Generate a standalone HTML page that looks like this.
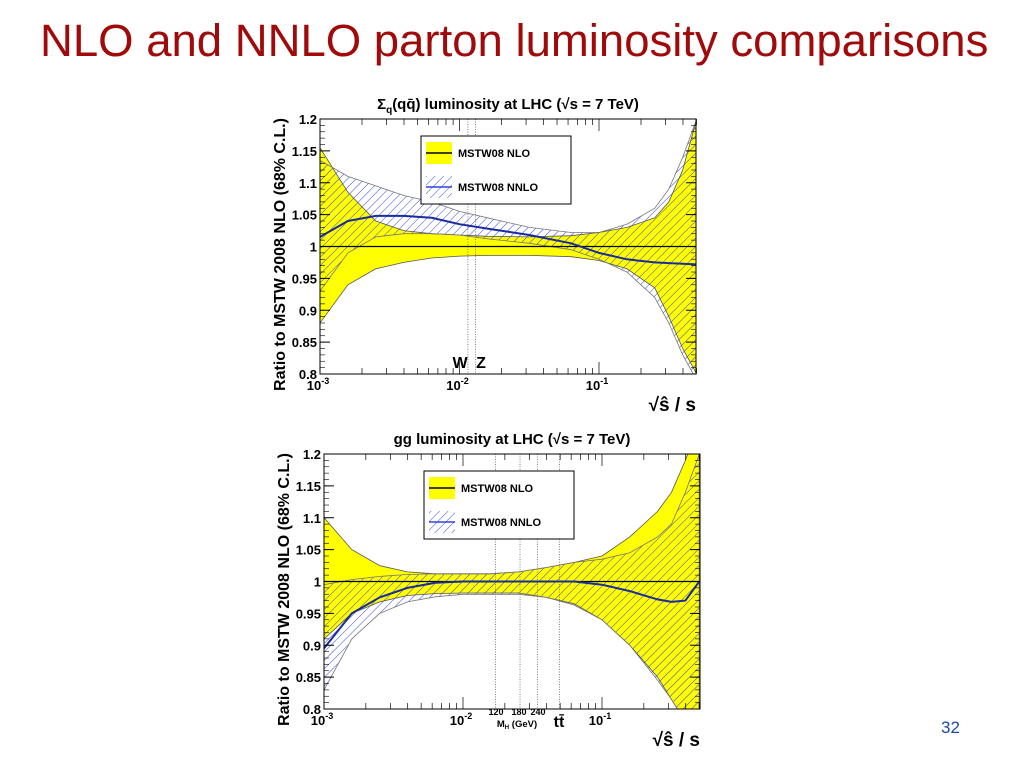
<!DOCTYPE html>
<html><head><meta charset="utf-8"><style>
body{margin:0;width:1024px;height:768px;background:#fff;overflow:hidden;font-family:"Liberation Sans",sans-serif}
#title{position:absolute;left:40px;top:15px;font-size:45.5px;color:#a00a0a;white-space:nowrap}
#pg{position:absolute;left:941px;top:718px;font-size:17px;color:#1a4aa8}
svg{position:absolute;left:0;top:0}
</style></head><body>
<div id="title">NLO and NNLO parton luminosity comparisons</div>
<div id="pg">32</div>
<svg id="s" width="1024" height="768">
<defs>
<pattern id="hb" patternUnits="userSpaceOnUse" width="6" height="6" patternTransform="rotate(45)"><line x1="0" y1="0" x2="0" y2="6" stroke="#3344dd" stroke-width="1"/></pattern>
</defs>
</svg>
<script>
// log10(sqrt(s^hat/s)) sample points
const qX=[-3,-2.8,-2.6,-2.4,-2.2,-2,-1.8,-1.5,-1.2,-1,-0.8,-0.6,-0.5,-0.4,-0.3];
const qNloUp=[1.155,1.085,1.04,1.025,1.02,1.018,1.016,1.015,1.017,1.022,1.03,1.045,1.07,1.12,1.2];
const qNloLo=[0.88,0.94,0.965,0.975,0.982,0.985,0.986,0.986,0.984,0.978,0.965,0.935,0.89,0.84,0.8];
const qNnloC=[1.015,1.04,1.048,1.048,1.045,1.035,1.028,1.018,1.005,0.99,0.98,0.975,0.974,0.973,0.972];
const qNnloUp=[1.135,1.11,1.095,1.08,1.07,1.055,1.045,1.03,1.022,1.022,1.035,1.06,1.09,1.14,1.2];
const qNnloLo=[0.93,0.99,1.015,1.02,1.02,1.018,1.012,1.005,0.995,0.98,0.96,0.92,0.88,0.83,0.79];
const gX=[-3,-2.8,-2.6,-2.4,-2.2,-2,-1.8,-1.6,-1.4,-1.2,-1,-0.8,-0.6,-0.5,-0.4,-0.3];
const gNloUp=[1.1,1.05,1.025,1.015,1.012,1.012,1.012,1.015,1.022,1.03,1.04,1.07,1.11,1.14,1.19,1.25];
const gNloLo=[0.91,0.95,0.968,0.978,0.981,0.982,0.982,0.982,0.975,0.965,0.94,0.9,0.85,0.815,0.78,0.75];
const gNnloC=[0.895,0.95,0.975,0.99,0.998,1.0,1.0,1.0,1.0,1.0,0.995,0.985,0.972,0.968,0.97,1.0];
const gNnloUp=[0.995,1.003,1.008,1.011,1.012,1.012,1.012,1.015,1.022,1.03,1.035,1.045,1.07,1.09,1.14,1.2];
const gNnloLo=[0.83,0.91,0.95,0.968,0.976,0.98,0.98,0.98,0.975,0.963,0.94,0.9,0.845,0.815,0.78,0.74];
const yTicks=["0.8","0.85","0.9","0.95","1","1.05","1.1","1.15","1.2"];
const NS="http://www.w3.org/2000/svg";
const svg=document.getElementById('s');
function mk(t,a,p){const e=document.createElementNS(NS,t);for(const k in a)e.setAttribute(k,a[k]);(p||svg).appendChild(e);return e;}
function chart(c){
  const g=mk('g',{});
  
  
  const X=v=>c.x0+(v+3)*c.dec, Y=v=>c.y1+(1.2-v)/0.4*(c.y0-c.y1);
  const cid=c.name+'-clip';
  const cp=mk('clipPath',{id:cid},svg.querySelector('defs'));
  mk('rect',{x:c.x0,y:c.y1,width:c.x1-c.x0,height:c.y0-c.y1},cp);
  const pg=mk('g',{'clip-path':'url(#'+cid+')'},g);
  const line=(xs,ys)=>xs.map((v,i)=>X(v).toFixed(1)+','+Y(ys[i]).toFixed(1)).join(' ');
  const band=(xs,u,l)=>line(xs,u)+' '+line(xs.slice().reverse(),l.slice().reverse());
  let e=mk('polygon',{points:band(c.xs,c.nu,c.nl),fill:'#ffff00',stroke:'#555','stroke-width':0.8},pg);
  
  e=mk('polygon',{points:band(c.xs,c.hu,c.hl),fill:'url(#hb)',stroke:'#777','stroke-width':0.8},pg);
  
  c.marks.forEach(m=>{const l=mk('line',{x1:X(m),x2:X(m),y1:c.y1,y2:c.y0,stroke:'#666','stroke-dasharray':'1,1.5','stroke-width':0.8},pg);
    });
  e=mk('line',{x1:c.x0,x2:c.x1,y1:Y(1),y2:Y(1),stroke:'#000','stroke-width':1.3},pg);
  
  e=mk('polyline',{points:line(c.xs,c.hc),fill:'none',stroke:'#1a2aa0','stroke-width':2},pg);
  
  mk('rect',{x:c.x0,y:c.y1,width:c.x1-c.x0,height:c.y0-c.y1,fill:'none',stroke:'#000','stroke-width':1},g);
  yTicks.forEach(t=>{const v=+t,y=Y(v);
    mk('line',{x1:c.x0,x2:c.x0+10,y1:y,y2:y,stroke:'#000'},g);mk('line',{x1:c.x1,x2:c.x1-10,y1:y,y2:y,stroke:'#000'},g);
    const tx=mk('text',{x:c.x0-3,y:y+5,'text-anchor':'end','font-size':13,'font-weight':'bold'},g);tx.textContent=t;
    });
  for(let v=0.81;v<1.2;v+=0.01){const y=Y(v);mk('line',{x1:c.x0,x2:c.x0+5,y1:y,y2:y,stroke:'#000','stroke-width':0.6},g);mk('line',{x1:c.x1,x2:c.x1-5,y1:y,y2:y,stroke:'#000','stroke-width':0.6},g);}
  for(let d=-3;d<0;d++)for(let k=1;k<10;k++){const lv=d+Math.log10(k);if(lv>c.xmax)break;const x=X(lv),L=k==1?12:6;
    mk('line',{x1:x,x2:x,y1:c.y0,y2:c.y0-L,stroke:'#000','stroke-width':0.7},g);mk('line',{x1:x,x2:x,y1:c.y1,y2:c.y1+L,stroke:'#000','stroke-width':0.7},g);
    if(k==1){const t=mk('text',{x:x-2,y:c.y0+16,'text-anchor':'middle','font-size':13,'font-weight':'bold'},g);
      t.innerHTML='10<tspan dy="-6" font-size="9">'+d+'</tspan>';}}
  let t=mk('text',{x:(c.x0+c.x1)/2,y:c.y1-10,'text-anchor':'middle','font-size':15,'font-weight':'bold'},g);t.innerHTML=c.title;
  
  t=mk('text',{x:c.x1,y:c.y0+37,'text-anchor':'end','font-size':19,'font-weight':'bold'},g);t.textContent='√ŝ / s';
  
  t=mk('text',{transform:'translate('+(c.x0-35)+','+((c.y0+c.y1)/2+8)+') rotate(-90)','text-anchor':'middle','font-size':16,'font-weight':'bold'},g);t.textContent='Ratio to MSTW 2008 NLO (68% C.L.)';
  
  const lg=mk('g',{},g);
  const lx=c.lx,ly=c.ly;
  mk('rect',{x:lx,y:ly,width:150,height:68,fill:'#fff',stroke:'#000','stroke-width':1},lg);
  mk('rect',{x:lx+5,y:ly+6,width:26,height:22,fill:'#ffff00'},lg);
  mk('line',{x1:lx+5,x2:lx+31,y1:ly+17,y2:ly+17,stroke:'#000','stroke-width':1.5},lg);
  mk('rect',{x:lx+5,y:ly+40,width:26,height:22,fill:'url(#hb)'},lg);
  mk('line',{x1:lx+5,x2:lx+31,y1:ly+51,y2:ly+51,stroke:'#3344dd','stroke-width':1.5},lg);
  t=mk('text',{x:lx+37,y:ly+21,'font-size':11,'font-weight':'bold'},lg);t.textContent='MSTW08 NLO';
  
  t=mk('text',{x:lx+37,y:ly+55,'font-size':11,'font-weight':'bold'},lg);t.textContent='MSTW08 NNLO';
  
  c.labels.forEach(l=>{const t=mk('text',{x:l[0],y:l[1],'text-anchor':'middle','font-size':l[3],'font-weight':'bold'},g);t.innerHTML=l[2];
    });
  return X;
}
chart({name:'qq-chart',x0:320,x1:696,y0:374,y1:119,dec:139.5,xmax:-0.3,xs:qX,nu:qNloUp,nl:qNloLo,hc:qNnloC,hu:qNnloUp,hl:qNnloLo,
  marks:[Math.log10(80.4/7000),Math.log10(91.2/7000)],lx:421,ly:136,
  title:'Σ<tspan dy="4" font-size="10">q</tspan><tspan dy="-4">(q</tspan>q̄) luminosity at LHC (√s = 7 TeV)',
  labels:[[460,368,'W',16],[481,368,'Z',16]]});
chart({name:'gg-chart',x0:324,x1:700,y0:709,y1:454,dec:139,xmax:-0.3,xs:gX,nu:gNloUp,nl:gNloLo,hc:gNnloC,hu:gNnloUp,hl:gNnloLo,
  marks:[Math.log10(120/7000),Math.log10(180/7000),Math.log10(240/7000),Math.log10(346/7000)],lx:424,ly:471,
  title:'gg luminosity at LHC (√s = 7 TeV)',
  labels:[[496,715,'120',9],[519,715,'180',9],[538,715,'240',9],[517,727,'M<tspan font-size="6" dy="2">H</tspan><tspan dy="-2"> (GeV)</tspan>',9.5],[559,727,'tt̄',16]]});
</script>
</body></html>
